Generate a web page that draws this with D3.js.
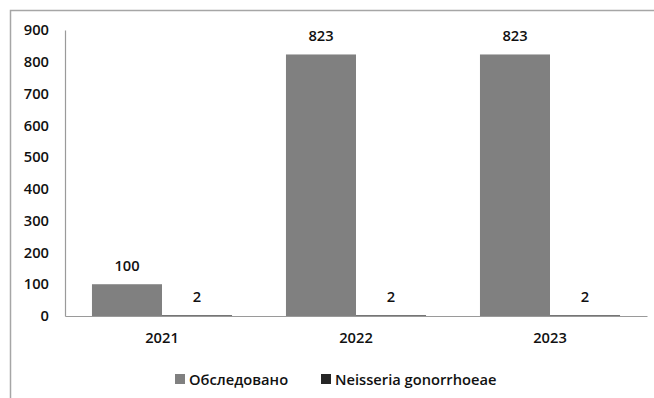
<!DOCTYPE html>
<html>
<head>
<meta charset="utf-8">
<script src="https://cdn.jsdelivr.net/npm/d3@7"></script>
<style>
  html, body { margin: 0; padding: 0; background: #fff; }
  svg { display: block; }
  text { font-family: "Open Sans", "Liberation Sans", sans-serif; fill: #111; }
</style>
</head>
<body>
<svg id="chart" width="654" height="398"></svg>
<script>
// Chart data
const years = ["2021", "2022", "2023"];
const examined = [100, 823, 823];
const gonorrhoeae = [2, 2, 2];
const seriesNames = ["Обследовано", "Neisseria gonorrhoeae"];
const yTicks = [0, 100, 200, 300, 400, 500, 600, 700, 800, 900];

const colors = ["#808080", "#262626"];
const series = [examined, gonorrhoeae];
const FS = 14.7;

const svg = d3.select("#chart");

// Outer frame (extends past the right and bottom edges)
svg.append("rect")
  .attr("x", 10.5).attr("y", 10.5)
  .attr("width", 700).attr("height", 500)
  .attr("fill", "none").attr("stroke", "#a6a6a6").attr("stroke-width", 1.5);

const plot = { left: 65, right: 647, top: 30, bottom: 316 };

const x = d3.scaleBand().domain(years).range([plot.left, plot.right]).paddingInner(0.278).paddingOuter(0.139);
const xs = d3.scaleBand().domain([0, 1]).range([0, x.bandwidth()]);
const y = d3.scaleLinear().domain([0, 900]).range([plot.bottom, plot.top]);

function styleText(sel) {
  sel.attr("font-size", FS).attr("font-family", "Open Sans").attr("font-weight", 600).attr("fill", "#2a2a2a");
}

// Y axis
const yAxis = d3.axisLeft(y).tickValues(yTicks).tickSize(0).tickPadding(16);
const gy = svg.append("g").attr("transform", `translate(${plot.left},0)`).call(yAxis);
gy.select(".domain").attr("stroke", "#9a9a9a").attr("stroke-width", 1.2);
gy.selectAll("text").call(styleText);

// Bars
series.forEach((vals, si) => {
  svg.append("g").selectAll("rect")
    .data(vals)
    .join("rect")
    .attr("x", (d, i) => x(years[i]) + xs(si))
    .attr("y", d => y(d))
    .attr("width", xs.bandwidth())
    .attr("height", d => y(0) - y(d))
    .attr("fill", colors[si]);

  svg.append("g").selectAll("text")
    .data(vals)
    .join("text")
    .attr("x", (d, i) => x(years[i]) + xs(si) + xs.bandwidth() / 2)
    .attr("y", d => y(d) - 13)
    .attr("text-anchor", "middle")
    .call(styleText)
    .text(d => d);
});

// X axis
const xAxis = d3.axisBottom(x).tickSize(0).tickPadding(17);
const gx = svg.append("g").attr("transform", `translate(0,${plot.bottom})`).call(xAxis);
gx.select(".domain").attr("stroke", "#9a9a9a").attr("stroke-width", 1.2);
gx.selectAll("text").call(styleText);

// Legend
const legendX = [175, 321];
const legend = svg.append("g");
seriesNames.forEach((name, i) => {
  legend.append("rect")
    .attr("x", legendX[i]).attr("y", 374)
    .attr("width", 10).attr("height", 10)
    .attr("fill", colors[i]);
  legend.append("text")
    .attr("x", legendX[i] + 14).attr("y", 385)
    .call(styleText)
    .text(name);
});
</script>
</body>
</html>
